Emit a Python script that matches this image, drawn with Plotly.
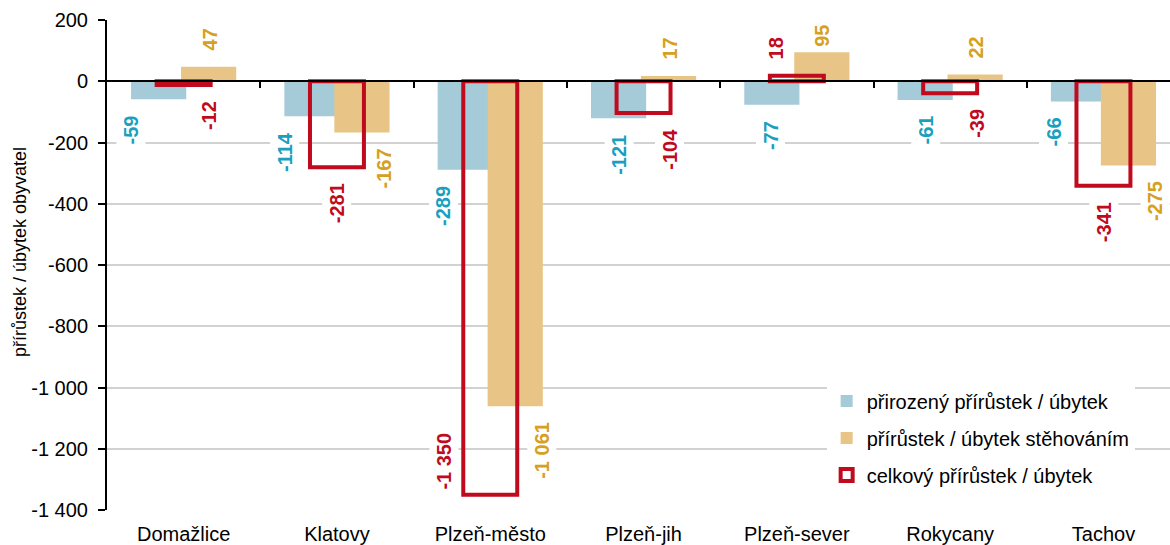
import plotly.graph_objects as go

# ---------------- data ----------------
categories = ["Domažlice", "Klatovy", "Plzeň-město", "Plzeň-jih", "Plzeň-sever", "Rokycany", "Tachov"]
natural = [-59, -114, -289, -121, -77, -61, -66]
migration = [47, -167, -1061, 17, 95, 22, -275]
total = [-12, -281, -1350, -104, 18, -39, -341]
series_names = ["přirozený přírůstek / úbytek", "přírůstek / úbytek stěhováním", "celkový přírůstek / úbytek"]
y_ticks = [200, 0, -200, -400, -600, -800, -1000, -1200, -1400]
y_title = "přírůstek / úbytek obyvatel"

# ---------------- style ----------------
FONT = "Arial, 'Liberation Sans', sans-serif"
BLUE, TAN, RED = "#A5CAD8", "#E8C586", "#C00A1E"
BLUE_TXT, TAN_TXT, RED_TXT = "#1A9FBE", "#D6A020", "#C00A1E"
W, H = 1170, 545
M_L, M_R, M_T, M_B = 107, 0, 20, 33
Y_MIN, Y_MAX = -1400, 200
X_END = -0.5 + (W - M_L - M_R) / 153.3
BAR_W = 0.36
BAR_OFF = 0.163
# label horizontal offsets (category units) - manual placement as in original
DX_BLUE = [-0.345, -0.34, -0.307, -0.157, -0.17, -0.157, -0.326]
DX_TAN = [0.17, 0.307, 0.333, 0.17, 0.163, 0.17, 0.34]
DX_RED = [0.17, 0.0, -0.30, 0.17, -0.137, 0.17, 0.0]
LBL_SIZE = 20
GAP = 16

PLOT_H = H - M_T - M_B
PX = PLOT_H / (Y_MAX - Y_MIN)


def fmt(v):
    s = f"{abs(v):,}".replace(",", " ")
    return ("-" if v < 0 else "") + s


def text_len(s):
    w = {"-": 0.333, " ": 0.278}
    return LBL_SIZE * sum(w.get(c, 0.556) for c in s)


def ypx(v):
    return M_T + (Y_MAX - v) * PX


xs = list(range(len(categories)))

fig = go.Figure()
fig.add_trace(go.Bar(x=xs, y=natural, name=series_names[0], width=BAR_W, offset=-BAR_OFF - BAR_W / 2,
                     legendgroup="a", marker=dict(color=BLUE, line=dict(width=0))))
fig.add_trace(go.Bar(x=xs, y=migration, name=series_names[1], width=BAR_W, offset=BAR_OFF - BAR_W / 2,
                     legendgroup="b", marker=dict(color=TAN, line=dict(width=0))))
fig.add_trace(go.Bar(x=xs, y=total, name=series_names[2], width=0.352, offset=-0.176, xaxis="x2",
                     legendgroup="c",
                     marker=dict(color="rgba(255,255,255,0)", line=dict(color=RED, width=4))))

annotations = []
for vals, dxs, col in [(natural, DX_BLUE, BLUE_TXT), (migration, DX_TAN, TAN_TXT), (total, DX_RED, RED_TXT)]:
    for i, v in enumerate(vals):
        t = fmt(v)
        L = text_len(t)
        p = ypx(v)
        if v < 0:
            c = p + GAP + L / 2
            if c + L / 2 + 4 > M_T + PLOT_H:
                c = p - 5 - L / 2
        else:
            c = p - GAP - L / 2
            if c - L / 2 < M_T + 5:
                c = M_T + 5 + L / 2
        annotations.append(dict(x=i + dxs[i], y=v, xref="x", yref="y", text=t, showarrow=False,
                                textangle=-90, xanchor="center", yanchor="middle", yshift=p - c,
                                font=dict(family=FONT, size=LBL_SIZE, color=col, weight="bold"),
                                bgcolor="white", borderpad=3))

annotations.append(dict(x=0, y=(M_T + PLOT_H - 253) / PLOT_H, xref="paper", yref="paper", text=y_title,
                        showarrow=False, textangle=-90, xanchor="center", yanchor="middle", xshift=20 - M_L,
                        font=dict(family=FONT, size=18, color="black")))

fig.update_layout(
    width=W, height=H,
    margin=dict(l=M_L, r=M_R, t=M_T, b=M_B, pad=0),
    paper_bgcolor="white", plot_bgcolor="white",
    barmode="overlay",
    font=dict(family=FONT, size=20, color="black"),
    showlegend=True,
    legend=dict(x=0.677, y=0.262, xanchor="left", yanchor="top", bgcolor="white",
                font=dict(family=FONT, size=20, color="black"), traceorder="grouped",
                tracegroupgap=8, itemwidth=30, borderwidth=0),
    xaxis=dict(range=[-0.5, X_END], tickvals=xs, ticktext=categories, showline=False, ticks="",
               showgrid=False, zeroline=False, ticklabelstandoff=10,
               tickfont=dict(family=FONT, size=20, color="black"), fixedrange=True),
    xaxis2=dict(range=[-0.5, X_END], overlaying="x", anchor="free",
                position=(0 - Y_MIN) / (Y_MAX - Y_MIN), showline=True, linecolor="black", linewidth=1.5,
                ticks="outside", ticklen=6, tickwidth=1.5, tickcolor="black",
                tickvals=[i + 0.5 for i in xs[:-1]], showticklabels=False, showgrid=False, zeroline=False),
    yaxis=dict(range=[Y_MIN, Y_MAX], tickvals=y_ticks, ticktext=[fmt(v) for v in y_ticks],
               showline=True, linecolor="black", linewidth=2, ticks="outside", ticklen=7, tickwidth=1.5,
               tickcolor="black", showgrid=True, gridcolor="#D2D2D2", gridwidth=1.5, zeroline=False,
               ticklabelstandoff=6, tickfont=dict(family=FONT, size=20, color="black")),
    annotations=annotations,
)

fig.write_html("out.html", config={"displayModeBar": False},
               post_script="document.body.style.margin='0';document.body.style.padding='0';")
